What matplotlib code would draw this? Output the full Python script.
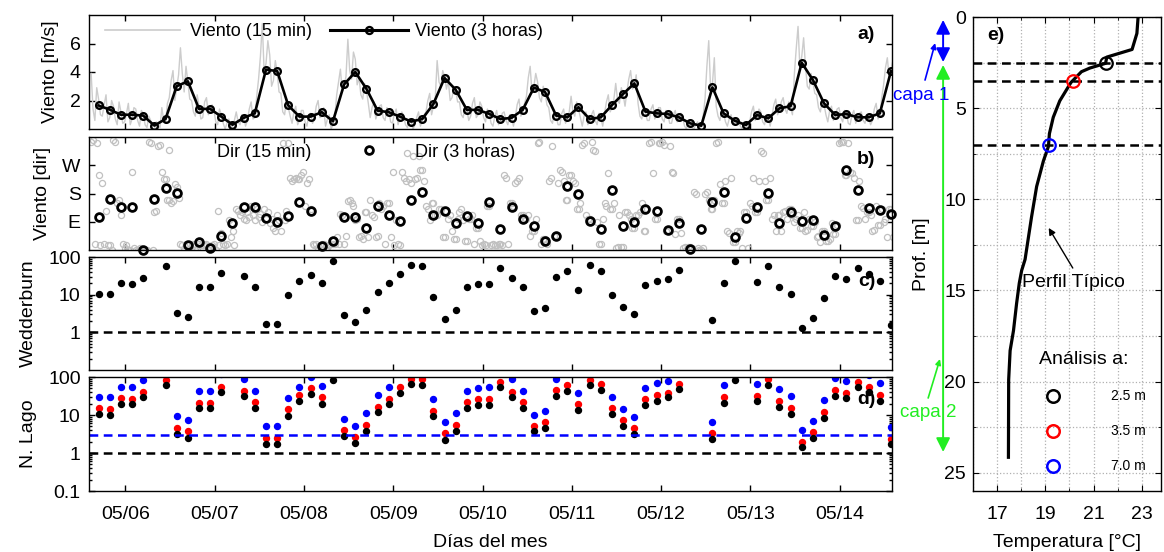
import numpy as np
import matplotlib
matplotlib.use("Agg")
import matplotlib.pyplot as plt
from matplotlib.lines import Line2D
from matplotlib.ticker import FixedLocator, LogLocator, NullFormatter, MultipleLocator

plt.rcParams['font.family'] = ['Liberation Sans', 'DejaVu Sans']
plt.rcParams['font.size'] = 14
plt.rcParams['axes.linewidth'] = 1.0
plt.rcParams['xtick.direction'] = 'in'
plt.rcParams['ytick.direction'] = 'in'
plt.rcParams['xtick.top'] = True
plt.rcParams['ytick.right'] = True
plt.rcParams['xtick.major.size'] = 4
plt.rcParams['ytick.major.size'] = 4
plt.rcParams['xtick.minor.size'] = 2
plt.rcParams['ytick.minor.size'] = 2
plt.rcParams['xtick.major.pad'] = 10.5
plt.rcParams['ytick.major.pad'] = 6

BLUE = '#0000ff'
RED = '#ff0000'
GREEN = '#22ee22'
GREY_LINE = '#cccccc'
GREY_MARK = '#c0c0c0'

# ---------------- data ----------------
day_ticks = [6, 7, 8, 9, 10, 11, 12, 13, 14]
day_labels = ['05/06', '05/07', '05/08', '05/09', '05/10',
              '05/11', '05/12', '05/13', '05/14']

# time stamps (day of month): 3-hour means and 30-min samples
t3h_start, t3h_step = 5.70, 0.125
thf_start, thf_step = 5.617, 1.0 / 48.0

# wind speed, 3-hour means [m/s]
wind_3h = [1.65, 1.36, 1.00, 1.00, 0.94, 0.24, 0.70, 3.00, 3.35, 1.41, 1.41, 0.87,
           0.30, 0.78, 1.10, 4.16, 4.07, 1.65, 0.87, 0.87, 1.18, 0.54, 3.13, 4.00,
           2.82, 1.29, 1.18, 0.87, 0.52, 0.70, 1.76, 3.58, 2.75, 1.34, 1.34, 1.06,
           0.70, 0.78, 1.34, 2.90, 2.60, 0.94, 0.82, 1.53, 0.70, 0.82, 1.68, 2.46,
           3.20, 1.22, 1.10, 1.05, 0.82, 0.40, 0.23, 2.92, 1.10, 0.58, 0.28, 0.98,
           0.75, 1.45, 1.60, 4.65, 3.44, 1.80, 0.98, 1.05, 0.82, 0.82, 1.10, 4.07]

# wind speed, high-frequency record [m/s] (six samples per 3-hour block)
wind_hf = [3.9, 1.4, 0.6, 2.9, 2.1, 1.0,  0.9, 1.7, 2.4, 0.5, 0.8, 2.0,
           1.6, 0.7, 0.3, 1.9, 1.2, 0.4,  0.5, 1.1, 1.8, 0.3, 0.7, 1.5,
           1.4, 0.6, 0.2, 1.3, 1.1, 0.3,  0.1, 0.9, 0.6, 0.0, 0.0, 0.5,
           0.3, 0.1, 1.5, 0.6, 0.4, 1.8,  2.2, 3.4, 4.1, 2.0, 2.9, 3.8,
           5.7, 3.9, 2.6, 4.4, 3.3, 2.1,  2.0, 1.2, 0.9, 2.4, 1.6, 0.7,
           0.8, 1.9, 2.2, 1.0, 1.2, 1.7,  1.3, 0.5, 0.3, 1.4, 1.0, 0.4,
           0.0, 0.4, 0.7, 0.1, 0.2, 0.6,  1.2, 0.5, 0.3, 1.0, 0.9, 0.2,
           0.6, 1.4, 1.9, 0.7, 0.8, 2.3,  3.5, 5.1, 7.4, 4.0, 4.6, 6.2,
           5.2, 3.0, 3.4, 4.8, 4.0, 2.6,  2.5, 1.2, 1.0, 2.1, 1.5, 0.9,
           0.4, 1.2, 1.6, 0.3, 0.6, 1.3,  1.3, 0.5, 0.2, 1.0, 1.1, 0.4,
           0.7, 1.6, 2.0, 0.8, 0.9, 1.5,  0.2, 0.7, 1.0, 0.0, 0.3, 0.9,
           2.4, 3.3, 4.2, 2.6, 3.0, 3.7,  6.3, 4.1, 3.5, 5.4, 4.9, 3.1,
           3.6, 2.4, 2.1, 3.2, 2.7, 1.8,  0.8, 1.5, 1.9, 0.7, 1.1, 1.6,
           1.7, 0.8, 0.6, 1.5, 1.3, 0.5,  0.4, 1.1, 1.4, 0.3, 0.8, 1.2,
           0.9, 0.3, 0.1, 0.7, 0.6, 0.0,  0.3, 0.8, 1.2, 0.2, 0.6, 1.0,
           1.2, 2.0, 2.5, 1.0, 1.6, 2.2,  4.8, 3.3, 3.0, 4.1, 3.7, 2.8,
           3.4, 2.0, 2.2, 3.0, 2.7, 1.9,  1.9, 1.0, 0.8, 1.6, 1.3, 0.6,
           0.9, 1.8, 2.2, 0.8, 1.0, 1.9,  1.6, 0.8, 0.5, 1.4, 1.1, 0.4,
           0.2, 0.9, 1.3, 0.3, 0.6, 1.1,  1.2, 0.6, 0.3, 1.0, 0.9, 0.2,
           0.8, 1.7, 2.1, 0.9, 1.2, 1.8,  2.3, 3.6, 4.4, 2.5, 3.0, 3.9,
           3.3, 2.2, 1.9, 3.0, 2.6, 1.7,  1.5, 0.6, 0.4, 1.2, 0.9, 0.3,
           0.3, 1.1, 1.4, 0.4, 0.7, 1.2,  2.3, 1.2, 0.9, 1.9, 1.4, 0.8,
           0.2, 0.9, 1.2, 0.3, 0.6, 1.0,  1.3, 0.6, 0.3, 1.1, 0.8, 0.2,
           1.1, 1.9, 2.4, 1.2, 1.5, 2.1,  3.2, 2.0, 1.8, 2.9, 2.4, 1.6,
           2.6, 3.5, 4.1, 2.8, 3.0, 3.8,  1.8, 0.9, 0.7, 1.5, 1.1, 0.6,
           0.6, 1.4, 1.7, 0.7, 1.0, 1.5,  1.5, 0.7, 0.5, 1.3, 1.1, 0.4,
           0.4, 1.0, 1.3, 0.5, 0.7, 1.1,  0.8, 0.2, 0.0, 0.6, 0.4, 0.1,
           0.0, 0.3, 0.5, 0.0, 0.2, 0.9,  2.1, 4.4, 6.2, 2.8, 3.2, 5.0,
           1.6, 0.9, 0.6, 1.4, 1.1, 0.5,  0.2, 0.7, 1.0, 0.3, 0.5, 0.8,
           0.6, 0.2, 0.0, 0.5, 0.3, 0.1,  0.5, 1.2, 1.6, 0.6, 0.9, 1.4,
           1.2, 0.5, 0.3, 1.0, 0.8, 0.2,  0.9, 1.7, 2.1, 1.0, 1.3, 1.9,
           2.2, 1.4, 1.1, 1.9, 1.5, 1.0,  3.8, 5.6, 7.2, 4.3, 5.1, 6.4,
           4.4, 3.0, 2.8, 3.9, 3.3, 2.5,  2.4, 1.5, 1.2, 2.0, 1.7, 1.0,
           0.5, 1.3, 1.6, 0.6, 0.9, 1.4,  1.5, 0.8, 0.5, 1.3, 1.2, 0.4,
           0.3, 1.0, 1.3, 0.4, 0.8, 1.1,  1.2, 0.6, 0.4, 1.0, 0.8, 0.3,
           0.6, 1.4, 1.8, 0.7, 1.0, 2.2,  3.1, 4.3, 5.0, 3.6, 4.2, 4.8]

# wind direction, 3-hour means [deg]
dir_3h = [105, 163, 137, 137, 0, 161, 196, 183, 15, 26, 7, 46,
          85, 137, 137, 101, 90, 108, 153, 124, 12, 30, 105, 105,
          69, 140, 110, 92, 158, 186, 113, 124, 85, 108, 87, 153,
          66, 137, 98, 76, 28, 46, 204, 177, 92, 66, 192, 76,
          90, 132, 124, 64, 87, 4, 66, 153, 186, 43, 101, 137,
          182, 87, 120, 92, 95, 48, 78, 255, 192, 135, 129, 116]

# wind direction, high-frequency record [deg] (six samples per 3-hour block)
dir_hf = [345, 350, 20, 340, 240, 15,   215, 20, 125, 15, 15, 0,
          350, 345, 150, 160, 110, 20,  5, 15, 0, 0, 250, 5,
          0, 0, 5, 0, 0, 0,             0, 345, 340, 0, 120, 125,
          330, 335, 250, 225, 225, 160, 160, 150, 155, 210, 200, 165,
          20, 15, 0, 18, 15, 20,        15, 18, 0, 0, 20, 15,
          15, 15, 18, 0, 0, 15,         20, 0, 125, 15, 55, 18,
          15, 18, 95, 40, 60, 15,       130, 125, 110, 120, 100, 95,
          120, 105, 140, 110, 95, 130,  105, 115, 90, 130, 100, 120,
          85, 100, 70, 60, 110, 95,     60, 340, 95, 125, 340, 230,
          220, 225, 230, 225, 225, 240, 250, 140, 215, 225, 130, 20,
          15, 18, 0, 15, 18, 20,        0, 0, 15, 18, 18, 20,
          40, 20, 115, 110, 20, 45,     155, 160, 150, 140, 95, 100,
          40, 45, 35, 120, 120, 40,     160, 110, 105, 40, 45, 150,
          130, 140, 20, 150, 150, 40,   250, 15, 95, 18, 15, 250,
          230, 220, 310, 225, 215, 300, 225, 230, 300, 255, 255, 220,
          140, 130, 95, 150, 150, 110,  110, 130, 130, 40, 40, 125,
          100, 110, 60, 35, 35, 100,    120, 130, 95, 30, 30, 100,
          100, 110, 20, 70, 70, 30,     15, 18, 15, 140, 140, 15,
          18, 15, 15, 20, 20, 15,       240, 230, 20, 150, 150, 140,
          215, 220, 230, 110, 110, 100, 100, 110, 45, 60, 60, 100,
          340, 345, 20, 35, 35, 20,     220, 230, 330, 45, 45, 215,
          255, 250, 220, 160, 160, 240, 240, 220, 215, 130, 130, 150,
          335, 340, 110, 100, 100, 345, 320, 315, 90, 18, 18, 100,
          150, 140, 245, 130, 130, 150, 5, 8, 110, 8, 8, 120,
          120, 110, 100, 70, 70, 110,   110, 120, 150, 60, 60, 130,
          340, 345, 245, 100, 100, 340, 340, 345, 335, 60, 60, 330,
          250, 245, 50, 100, 100, 55,   5, 8, 0, 8, 8, 5,
          185, 180, 5, 0, 0, 5,         180, 185, 160, 130, 130, 160,
          340, 345, 210, 150, 150, 220, 60, 55, 230, 25, 25, 60,
          55, 60, 5, 120, 120, 5,       150, 140, 230, 120, 120, 220,
          315, 310, 220, 160, 160, 230, 100, 110, 60, 110, 110, 60,
          120, 125, 100, 130, 130, 110, 90, 100, 110, 70, 70, 120,
          60, 65, 100, 75, 75, 90,      40, 45, 25, 60, 60, 30,
          30, 35, 85, 50, 50, 80,       340, 345, 345, 240, 240, 340,
          250, 245, 230, 95, 95, 220,   140, 135, 100, 120, 120, 110,
          60, 65, 140, 80, 80, 130,     90, 100, 40, 130, 130, 40]

nan = np.nan
# Wedderburn number
wedderburn = [10.7, 10.7, 20, 19, 27.8, nan, 57, 3.2, 2.5, 15.6, 15.6, 38,
              nan, 30.9, 15.6, 1.7, 1.7, 9.7, 23.5, 33.4, 20, 78, 2.8, 1.86,
              3.8, 12, 20, 35.7, 62, 57, 8.9, 2.3, 3.8, 16.2, 19.2, 19.2,
              51.5, 27, 15.6, 3.7, 4.5, 30, 42, 13.5, 60, 43, 10, 4.7,
              3.0, 18, 23.5, 25.6, 45.6, nan, nan, 2.15, 20, 79, nan, 22,
              59, 16.2, 10.3, 1.3, 2.4, 8.4, 31, 26, 50, 35, 23.5, 1.6]

# Lake number for the three analysis depths
lake_25 = [10.7, 10.3, 20, 19, 29, nan, 60, 3.2, 2.5, 15.6, 15.6, 39.5,
           nan, 32, 15.6, 1.7, 1.7, 9.7, 23.5, 35, 20, 81, 2.8, 1.86,
           3.9, 12, 19, 38, 66, 60, 9.3, 2.2, 3.9, 15.6, 18, 18,
           53, 29, 15.6, 3.7, 4.5, 32, 44, 13.5, 60, 46, 10.5, 5.1,
           3.2, 18.4, 24, 29, 48, nan, nan, 2.3, 21, 85, nan, 23.5,
           63, 16.6, 10.7, 1.4, 2.5, 8.5, 32.5, 27.7, 53, 40, 23.5, 1.7]
lake_35 = [15, 14.6, 27.8, 26, 41, nan, 81, 4.5, 3.7, 21, 21, 56,
           nan, 43.6, 22, 2.5, 2.5, 14, 33.5, 50.6, 29, 130, 4.1, 2.7,
           5.5, 16.5, 27, 54, 90, 90, 12.7, 3.3, 5.5, 22, 26, 26,
           76, 39.5, 22, 5.0, 6.4, 46.5, 63, 19, 84, 65, 15, 7.4,
           4.5, 26, 34, 39, 66, nan, nan, 3.3, 29.5, 125, nan, 32.5,
           88, 23.5, 15, 1.95, 3.6, 12.3, 46, 39, 76, 55, 34, 2.4]
lake_70 = [30, 30, 56, 54, 85, nan, 150, 9.3, 7.3, 43.6, 43.6, 120,
           nan, 90, 43.6, 5.0, 5.0, 27.8, 55, 100, 57, 250, 8.0, 5.2,
           11, 33.5, 56, 160, 220, 220, 26, 6.4, 11, 43.6, 52, 54,
           180, 86, 43.6, 10.3, 12.7, 90, 140, 37, 170, 140, 29.5, 14.2,
           9.0, 51, 69, 80, 130, nan, nan, 6.5, 60, 250, nan, 66,
           170, 48, 30.7, 4.0, 7.1, 25, 94, 80, 150, 110, 69, 4.9]

# typical temperature profile
prof_depth = [0.0, 0.9, 1.78, 2.2, 2.54, 2.8, 3.0, 3.6, 4.6, 5.5, 6.4, 7.1,
              7.9, 9.3, 10.96, 13.3, 13.9, 14.6, 15.7, 17.2, 18.3, 19.9, 24.15]
prof_temp = [22.85, 22.8, 22.6, 21.55, 21.5, 20.85, 20.5, 20.06, 19.6, 19.33, 19.17, 19.13,
             18.92, 18.64, 18.43, 18.16, 18.02, 17.92, 17.81, 17.68, 17.54, 17.48, 17.47]

sample_depths = [2.5, 3.5, 7.0]
sample_colors = ['k', RED, BLUE]
sample_labels = ['2.5 m', '3.5 m', '7.0 m']

n3 = len(wind_3h)
t3h = t3h_start + t3h_step * np.arange(n3)
thf = thf_start + thf_step * np.arange(len(wind_hf))

# ---------------- figure ----------------
W, H = 1164, 552
fig = plt.figure(figsize=(W / 100, H / 100), dpi=100)


def px_axes(left, top, right, bottom):
    return fig.add_axes([left / W, 1 - bottom / H, (right - left) / W, (bottom - top) / H])


ax_a = px_axes(89, 15, 892, 129)
ax_b = px_axes(89, 137, 892, 250)
ax_c = px_axes(89, 257, 892, 370)
ax_d = px_axes(89, 377, 892, 491)
ax_e = px_axes(973, 17, 1161, 491)

xlim = (5.593, 14.586)
for ax in (ax_a, ax_b, ax_c, ax_d):
    ax.set_xlim(*xlim)
    ax.set_xticks(day_ticks)
    ax.tick_params(axis='both', which='both', width=1.0)
for ax in (ax_a, ax_b, ax_c):
    ax.tick_params(labelbottom=False)
ax_d.set_xticklabels(day_labels)

# panel a: wind speed
ax_a.plot(thf, wind_hf, color=GREY_LINE, lw=1.0)
ax_a.plot(t3h, wind_3h, '-o', color='k', lw=1.9, ms=4.8, mfc='none', mew=1.7)
ax_a.set_ylim(0, 8)
ax_a.set_yticks([2, 4, 6])
ax_a.set_ylabel('Viento [m/s]', labelpad=8)
h_a1 = Line2D([], [], color=GREY_LINE, lw=1.2)
h_a2 = Line2D([], [], color='k', lw=2.2, marker='o', ms=5, mfc='none', mew=1.7)
leg = ax_a.legend([h_a1], ['Viento (15 min)'], loc='center left', bbox_to_anchor=(0.02, 0.851),
                  frameon=False, borderpad=0, borderaxespad=0, handlelength=4.15,
                  handletextpad=0.55, fontsize=13)
ax_a.add_artist(leg)
ax_a.legend([h_a2], ['Viento (3 horas)'], loc='center left', bbox_to_anchor=(0.300, 0.851),
            frameon=False, borderpad=0, borderaxespad=0, handlelength=4.3,
            handletextpad=0.4, fontsize=13)
ax_a.text(0.979, 0.825, 'a)', transform=ax_a.transAxes, ha='right', va='center',
          fontsize=14, fontweight='bold')

# panel b: wind direction
ax_b.plot(thf, dir_hf, 'o', ls='none', mfc='none', mec=GREY_MARK, ms=4.4, mew=0.9)
ax_b.plot(t3h, dir_3h, 'o', ls='none', mfc='none', mec='k', ms=5.6, mew=2.0, clip_on=False,
          zorder=5)
ax_b.set_ylim(0, 360)
ax_b.set_yticks([90, 180, 270])
ax_b.set_yticklabels(['E', 'S', 'W'])
ax_b.set_ylabel('Viento [dir]', labelpad=8)
h_b1 = Line2D([], [], ls='none', marker='o', mfc='none', mec=GREY_MARK, ms=4.4, mew=0.9)
h_b2 = Line2D([], [], ls='none', marker='o', mfc='none', mec='k', ms=5.6, mew=2.0)
leg = ax_b.legend([h_b1], ['Dir (15 min)'], loc='center left', bbox_to_anchor=(0.0535, 0.867),
                  frameon=False, borderpad=0, borderaxespad=0, handlelength=4.15,
                  handletextpad=0.55, fontsize=13)
ax_b.add_artist(leg)
ax_b.legend([h_b2], ['Dir (3 horas)'], loc='center left', bbox_to_anchor=(0.300, 0.867),
            frameon=False, borderpad=0, borderaxespad=0, handlelength=4.3,
            handletextpad=0.4, fontsize=13)
ax_b.text(0.979, 0.805, 'b)', transform=ax_b.transAxes, ha='right', va='center',
          fontsize=14, fontweight='bold')


def log_axis(ax, ticks, labels):
    ax.set_yscale('log')
    ax.set_ylim(0.1, 100)
    ax.yaxis.set_major_locator(FixedLocator(ticks))
    ax.set_yticklabels(labels)
    ax.yaxis.set_minor_locator(LogLocator(base=10, subs=np.arange(2, 10)))
    ax.yaxis.set_minor_formatter(NullFormatter())


# panel c: Wedderburn number
log_axis(ax_c, [1, 10, 100], ['1', '10', '100'])
ax_c.plot(t3h, wedderburn, 'o', ls='none', color='k', ms=4.3)
ax_c.axhline(1, color='k', ls=(0, (3.5, 2.2)), lw=1.8)
ax_c.set_ylabel('Wedderburn', labelpad=8)
ax_c.text(0.979, 0.78, 'c)', transform=ax_c.transAxes, ha='right', va='center',
          fontsize=14, fontweight='bold')

# panel d: Lake number
log_axis(ax_d, [0.1, 1, 10, 100], ['0.1', '1', '10', '100'])
ax_d.plot(t3h, lake_70, 'o', ls='none', color=BLUE, ms=4.3)
ax_d.plot(t3h, lake_35, 'o', ls='none', color=RED, ms=4.3)
ax_d.plot(t3h, lake_25, 'o', ls='none', color='k', ms=4.3)
ax_d.axhline(3, color=BLUE, ls=(0, (3.5, 2.2)), lw=1.8)
ax_d.axhline(1, color='k', ls=(0, (3.5, 2.2)), lw=1.8)
ax_d.set_ylabel('N. Lago', labelpad=8)
ax_d.set_xlabel('Días del mes', labelpad=8)
ax_d.text(0.979, 0.80, 'd)', transform=ax_d.transAxes, ha='right', va='center',
          fontsize=14, fontweight='bold')

# panel e: temperature profile
ax_e.set_xlim(16, 23.8)
ax_e.set_ylim(26, 0)
ax_e.set_xticks([17, 19, 21, 23])
ax_e.xaxis.set_minor_locator(FixedLocator([16, 18, 20, 22]))
ax_e.set_yticks([0, 5, 10, 15, 20, 25])
ax_e.yaxis.set_minor_locator(MultipleLocator(2.5))
ax_e.tick_params(axis='y', which='major', pad=5)
ax_e.grid(True, which='both', color='#b0b0b0', ls=':', lw=0.9)
ax_e.set_axisbelow(True)
for d in sample_depths:
    ax_e.axhline(d, color='k', ls=(0, (3.5, 2.2)), lw=1.8)
ax_e.plot(prof_temp, prof_depth, color='k', lw=2.3)
sample_temps = np.interp(sample_depths, prof_depth, prof_temp)
for T, d, c in zip(sample_temps, sample_depths, sample_colors):
    ax_e.plot(T, d, 'o', mfc='none', mec=c, ms=9, mew=1.6, zorder=6)
ax_e.set_xlabel('Temperatura [°C]', labelpad=8)
ax_e.set_ylabel('Prof. [m]', labelpad=10)
ax_e.text(0.074, 0.962, 'e)', transform=ax_e.transAxes, ha='left', va='center',
          fontsize=14, fontweight='bold')

# legend of analysis depths
ax_e.text(20.59, 18.76, 'Análisis a:', ha='center', va='center', fontsize=14)
for d, c, lab in zip([20.79, 22.71, 24.63], sample_colors, sample_labels):
    ax_e.plot(19.31, d, 'o', mfc='none', mec=c, ms=9, mew=1.8)
    ax_e.text(22.45, d, lab, ha='center', va='center', fontsize=10)

# annotation of the typical profile
ax_e.text(20.16, 14.54, 'Perfil Típico', ha='center', va='center', fontsize=14)


def arrow(ax, xy_from, xy_to, color, style, scale, lw):
    ax.annotate('', xy=xy_to, xytext=xy_from, xycoords='data', textcoords='data',
                annotation_clip=False,
                arrowprops=dict(arrowstyle=style, color=color, lw=lw, mutation_scale=scale,
                                shrinkA=0, shrinkB=0))


arrow(ax_e, (20.14, 13.77), (19.14, 11.57), 'k', '-|>', 10, 1.0)

# layer markers left of the profile
arrow(ax_e, (14.76, 2.47), (14.76, 0.16), BLUE, '<|-|>', 21, 1.4)
arrow(ax_e, (14.76, 23.86), (14.76, 2.63), GREEN, '<|-|>', 21, 1.4)
ax_e.text(13.85, 4.28, 'capa 1', color=BLUE, ha='center', va='center', fontsize=13.5)
arrow(ax_e, (14.01, 3.46), (14.43, 1.43), BLUE, '-|>', 8, 1.2)
ax_e.text(14.14, 21.72, 'capa 2', color=GREEN, ha='center', va='center', fontsize=13.5)
arrow(ax_e, (14.14, 20.9), (14.63, 18.76), GREEN, '-|>', 8, 1.2)

fig.savefig('out.png', dpi=100)
